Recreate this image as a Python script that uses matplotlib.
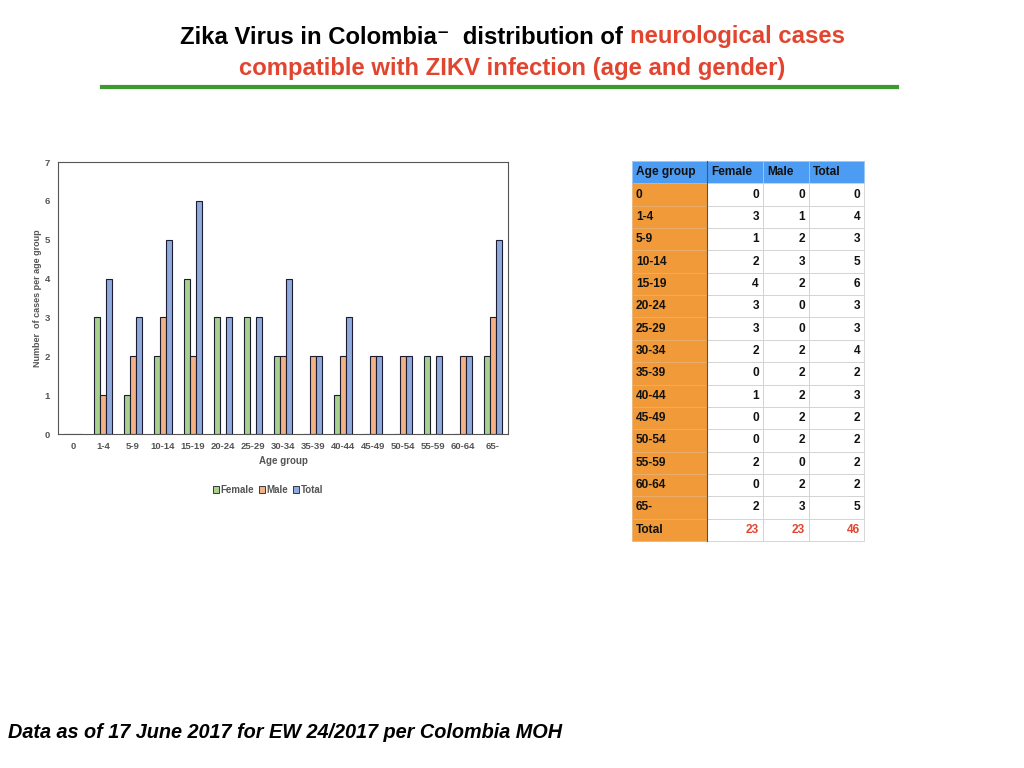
import matplotlib
matplotlib.use("Agg")
import matplotlib.pyplot as plt
from matplotlib.patches import Rectangle, Patch
import numpy as np

plt.rcParams['font.family'] = ['Liberation Sans', 'DejaVu Sans']

age_groups = ["0", "1-4", "5-9", "10-14", "15-19", "20-24", "25-29", "30-34",
              "35-39", "40-44", "45-49", "50-54", "55-59", "60-64", "65-"]
female = [0, 3, 1, 2, 4, 3, 3, 2, 0, 1, 0, 0, 2, 0, 2]
male = [0, 1, 2, 3, 2, 0, 0, 2, 2, 2, 2, 2, 0, 2, 3]
total = [0, 4, 3, 5, 6, 3, 3, 4, 2, 3, 2, 2, 2, 2, 5]
sum_female, sum_male, sum_total = 23, 23, 46

W, H = 1024, 768
fig = plt.figure(figsize=(W / 100, H / 100), dpi=100)

def px_axes(x0, y0, x1, y1):
    return fig.add_axes([x0 / W, 1 - y1 / H, (x1 - x0) / W, (y1 - y0) / H])

red = '#e2452f'
# Title
tfs = 17.2
t0 = fig.text(180 / W, 1 - 37 / H, "Zika Virus in Colombia\u207b  distribution of ", fontsize=tfs,
              fontweight='bold', color='black', ha='left', va='center')
fig.canvas.draw()
bb = t0.get_window_extent(fig.canvas.get_renderer())
fig.text(bb.x1 / W, 1 - 37 / H, "neurological cases", fontsize=tfs,
         fontweight='bold', color=red, ha='left', va='center')
fig.text(512 / W, 1 - 69 / H, "compatible with ZIKV infection (age and gender)", fontsize=tfs,
         fontweight='bold', color=red, ha='center', va='center')
fig.add_artist(plt.Line2D([102 / W, 897 / W], [1 - 87 / H, 1 - 87 / H], color='#3d9a2e', lw=3))

# Footer
fig.text(8 / W, 1 - 733 / H, "Data as of 17 June 2017 for EW 24/2017 per Colombia MOH", fontsize=14.3,
         fontweight='bold', style='italic', ha='left', va='center')

# Bar chart
ax = px_axes(58, 162, 508, 434)
x = np.arange(len(age_groups))
bw = 0.19
ec = '#1c1c30'
ax.bar(x - bw, female, bw, color='#a9d18e', edgecolor=ec, linewidth=0.8, label='Female')
ax.bar(x, male, bw, color='#f4b183', edgecolor=ec, linewidth=0.8, label='Male')
ax.bar(x + bw, total, bw, color='#8faadc', edgecolor=ec, linewidth=0.8, label='Total')
ax.set_xlim(-0.5, len(age_groups) - 0.5)
ax.set_ylim(0, 7)
ax.set_yticks(range(8))
ax.set_xticks(x)
ax.set_xticklabels(age_groups)
ax.tick_params(axis='both', length=0, labelsize=6.8, labelcolor='#555555', pad=6)
for lab in ax.get_xticklabels() + ax.get_yticklabels():
    lab.set_fontweight('bold')
for s in ax.spines.values():
    s.set_color('#555555')
    s.set_linewidth(0.8)
ax.set_xlabel("Age group", fontsize=7, color='#555555', fontweight='bold', labelpad=3)
ax.set_ylabel("Number  of cases per age group", fontsize=6.5, color='#555555', fontweight='bold', labelpad=2)
handles = [Patch(facecolor=c, edgecolor=ec, linewidth=0.6) for c in ['#a9d18e', '#f4b183', '#8faadc']]
ax.legend(handles, ['Female', 'Male', 'Total'], loc='upper center', bbox_to_anchor=(0.467, -0.155),
          ncol=3, frameon=False, handlelength=0.6, handleheight=0.6,
          handletextpad=0.2, columnspacing=0.5,
          prop={'weight': 'bold', 'size': 7})
for t in ax.get_legend().get_texts():
    t.set_color('#555555')

# Table
tax = px_axes(0, 0, W, H)
tax.set_xlim(0, W)
tax.set_ylim(H, 0)
tax.axis('off')
cols = [632, 707, 763, 809, 864]
top = 161
rh = (541 - 161) / 17
tfs2 = 8.6
headers = ["Age group", "Female", "Male", "Total"]
hdr_color = '#4b9cf2'
org = '#f09a3a'
grid = '#d0d0d0'
for j in range(4):
    tax.add_patch(Rectangle((cols[j], top), cols[j + 1] - cols[j], rh, facecolor=hdr_color,
                            edgecolor='#9cc8f5', lw=0.6))
    tax.text(cols[j] + 4, top + rh / 2, headers[j], fontsize=tfs2, fontweight='bold',
             ha='left', va='center', color='#111111')
rows = [(age_groups[i], female[i], male[i], total[i]) for i in range(len(age_groups))]
rows.append(("Total", sum_female, sum_male, sum_total))
for i, r in enumerate(rows):
    y0 = top + rh * (i + 1)
    is_total = (i == len(rows) - 1)
    tax.add_patch(Rectangle((cols[0], y0), cols[1] - cols[0], rh, facecolor=org,
                            edgecolor='#e8b070', lw=0.5))
    tax.text(cols[0] + 4, y0 + rh / 2, r[0], fontsize=tfs2, fontweight='bold',
             ha='left', va='center', color='#111111')
    for j in range(1, 4):
        tax.add_patch(Rectangle((cols[j], y0), cols[j + 1] - cols[j], rh, facecolor='white',
                                edgecolor=grid, lw=0.6))
        tax.text(cols[j + 1] - 4, y0 + rh / 2, str(r[j]), fontsize=tfs2, fontweight='bold',
                 ha='right', va='center', color=red if is_total else '#111111')
tax.plot([cols[1], cols[1]], [top, top + rh * len(rows) + rh], color='#555555', lw=0.8)

fig.savefig("out.png", dpi=100)
